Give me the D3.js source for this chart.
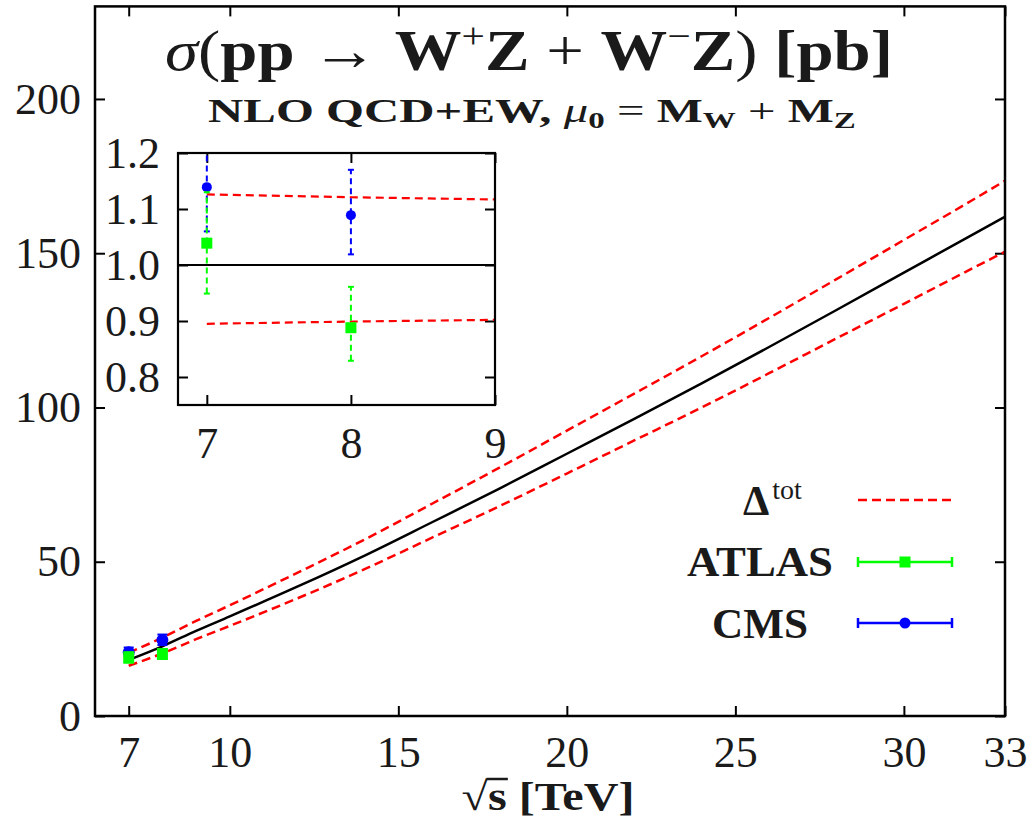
<!DOCTYPE html>
<html><head><meta charset="utf-8">
<script src="https://cdn.jsdelivr.net/npm/d3@7"></script>
<style>
body{margin:0;background:#fff}
svg{display:block}
text{font-family:'Liberation Serif','Times New Roman',serif;fill:#1a1a1a}
</style>
</head><body>
<svg id="c" width="1034" height="824"></svg>
<script>
// ---- Theory curve (NLO QCD+EW), sigma in pb vs sqrt(s) in TeV ----
const sqrtS        = [7, 8, 9, 10, 12, 14, 16, 18, 20, 22, 24, 26, 28, 30, 32, 33];
const sigmaCentral = [18.2, 22.6, 27.6, 32.3, 41.9, 52.0, 62.8, 73.7, 85.0, 96.3, 107.8, 119.6, 131.6, 143.7, 155.8, 161.8];
const sigmaUpper   = [20.5, 25.4, 30.8, 35.9, 46.4, 57.2, 68.8, 80.5, 92.5, 104.5, 116.6, 129.0, 141.6, 154.3, 167.0, 173.5];
const sigmaLower   = [16.3, 20.3, 24.9, 29.2, 38.1, 47.6, 57.8, 68.0, 78.6, 89.3, 100.0, 111.1, 122.4, 133.6, 144.9, 150.5];

// ---- Measurements (pb) ----
const expSqrtS  = [7, 8];
const atlasSigma = [19.0, 20.1];
const atlasLo    = [17.3, 18.7];
const atlasHi    = [20.6, 21.7];
const cmsSigma   = [20.7, 24.6];
const cmsLo      = [19.3, 23.0];
const cmsHi      = [22.2, 26.4];

// ---- Inset: ratio to theory ----
const ratioSqrtS   = [7, 8, 9];
const ratioCentral = [1.0, 1.0, 1.0];
const ratioUpper   = [1.126, 1.121, 1.117];
const ratioLower   = [0.895, 0.899, 0.902];
const atlasRatio   = [1.039, 0.888];
const atlasRatioLo = [0.949, 0.829];
const atlasRatioHi = [1.130, 0.961];
const cmsRatio     = [1.139, 1.089];
const cmsRatioLo   = [1.060, 1.019];
const cmsRatioHi   = [1.220, 1.170];

// ---- Tick labels ----
const xTicks = [7, 10, 15, 20, 25, 30, 33];
const yTicks = [0, 50, 100, 150, 200];
const xTicksInset = [7, 8, 9];
const yTicksInset = [0.8, 0.9, 1.0, 1.1, 1.2];

const RED = '#ff0000', GREEN = '#00ff00', BLUE = '#0000ff';
const svg = d3.select('#c');

// ================= MAIN PLOT =================
const L = 95, R = 1005, T = 6.4, B = 716;
const x = d3.scaleLinear().domain([6, 33]).range([L, R]);
const y = d3.scaleLinear().domain([0, 230]).range([B, T]);

svg.append('defs').append('clipPath').attr('id', 'mainClip')
  .append('rect').attr('x', L).attr('y', T).attr('width', R - L).attr('height', B - T);

function styleAxis(g, fs) {
  g.select('.domain').remove();
  g.selectAll('.tick line').attr('stroke', '#000').attr('stroke-width', 2);
  g.selectAll('.tick text').attr('font-size', fs).style('fill', '#1a1a1a');
}

const gxB = svg.append('g').attr('transform', `translate(0,${B})`)
  .call(d3.axisBottom(x).tickValues(xTicks).tickSize(-10).tickSizeOuter(0).tickPadding(20).tickFormat(d3.format('d')));
styleAxis(gxB, 44);
const gxT = svg.append('g').attr('transform', `translate(0,${T})`)
  .call(d3.axisTop(x).tickValues(xTicks).tickSize(-10).tickSizeOuter(0).tickFormat(''));
styleAxis(gxT, 44);
const gyL = svg.append('g').attr('transform', `translate(${L},0)`)
  .call(d3.axisLeft(y).tickValues(yTicks).tickSize(-10).tickSizeOuter(0).tickPadding(14).tickFormat(d3.format('d')));
styleAxis(gyL, 44);
const gyR = svg.append('g').attr('transform', `translate(${R},0)`)
  .call(d3.axisRight(y).tickValues(yTicks).tickSize(-10).tickSizeOuter(0).tickFormat(''));
styleAxis(gyR, 44);

// curves
const mainLine = d3.line().x(d => x(d[0])).y(d => y(d[1])).curve(d3.curveMonotoneX);
const plotG = svg.append('g').attr('clip-path', 'url(#mainClip)');
plotG.append('path').datum(d3.zip(sqrtS, sigmaUpper)).attr('d', mainLine)
  .attr('fill', 'none').attr('stroke', RED).attr('stroke-width', 2.5).attr('stroke-dasharray', '9,5');
plotG.append('path').datum(d3.zip(sqrtS, sigmaLower)).attr('d', mainLine)
  .attr('fill', 'none').attr('stroke', RED).attr('stroke-width', 2.5).attr('stroke-dasharray', '9,5');
plotG.append('path').datum(d3.zip(sqrtS, sigmaCentral)).attr('d', mainLine)
  .attr('fill', 'none').attr('stroke', '#000').attr('stroke-width', 2.5);

// measurement points
function errBars(g, xs, vals, lo, hi, sx, sy, color, dash, cap) {
  const data = xs.map((v, i) => ({x: v, v: vals[i], lo: lo[i], hi: hi[i]}));
  const gg = g.append('g');
  gg.selectAll('line.v').data(data).join('line')
    .attr('x1', d => sx(d.x)).attr('x2', d => sx(d.x))
    .attr('y1', d => sy(d.lo)).attr('y2', d => sy(d.hi))
    .attr('stroke', color).attr('stroke-width', 2).attr('stroke-dasharray', dash);
  ['lo', 'hi'].forEach(k => {
    gg.selectAll('line.' + k).data(data).join('line')
      .attr('x1', d => sx(d.x) - cap).attr('x2', d => sx(d.x) + cap)
      .attr('y1', d => sy(d[k])).attr('y2', d => sy(d[k]))
      .attr('stroke', color).attr('stroke-width', 2);
  });
  return data;
}
const cmsMain = errBars(plotG, expSqrtS, cmsSigma, cmsLo, cmsHi, x, y, BLUE, null, 5);
plotG.selectAll('circle.cms').data(cmsMain).join('circle')
  .attr('cx', d => x(d.x)).attr('cy', d => y(d.v)).attr('r', 6).attr('fill', BLUE);
const atlasMain = errBars(plotG, expSqrtS, atlasSigma, atlasLo, atlasHi, x, y, GREEN, null, 5);
plotG.selectAll('rect.atlas').data(atlasMain).join('rect')
  .attr('x', d => x(d.x) - 5.5).attr('y', d => y(d.v) - 6).attr('width', 11).attr('height', 12).attr('fill', GREEN);

// frame
svg.append('rect').attr('x', L).attr('y', T).attr('width', R - L).attr('height', B - T)
  .attr('fill', 'none').attr('stroke', '#000').attr('stroke-width', 2.5);

// stretch a text group horizontally to a target width around its centre
function fitWidth(g, cx, target) {
  const w = g.node().getBBox().width;
  const s = target / w;
  g.attr('transform', `translate(${cx},0) scale(${s},1) translate(${-cx},0)`);
}

// x axis title
const xtG = svg.append('g');
const xt = xtG.append('text').attr('x', 548).attr('y', 810).attr('text-anchor', 'middle')
  .attr('font-size', 40).attr('font-weight', 'bold');
xt.append('tspan').attr('font-weight', 'normal').text('√');
xt.append('tspan').text('s [TeV]');
{
  const n = xt.node();
  const a = n.getEndPositionOfChar(0).x - 1, b = n.getEndPositionOfChar(1).x + 1;
  xtG.append('line').attr('x1', a).attr('x2', b).attr('y1', 810 - 31).attr('y2', 810 - 31)
    .attr('stroke', '#1a1a1a').attr('stroke-width', 2.5);
}
fitWidth(xtG, 548, 173);

// ================= INSET =================
const iL = 178, iR = 495, iT = 153, iB = 405;
const xi = d3.scaleLinear().domain([6.8, 9]).range([iL, iR]);
const yi = d3.scaleLinear().domain([0.75, 1.2]).range([iB, iT]);
svg.select('defs').append('clipPath').attr('id', 'insetClip')
  .append('rect').attr('x', iL).attr('y', iT).attr('width', iR - iL).attr('height', iB - iT);

svg.append('rect').attr('x', iL).attr('y', iT).attr('width', iR - iL).attr('height', iB - iT).attr('fill', '#fff');

const gxiB = svg.append('g').attr('transform', `translate(0,${iB})`)
  .call(d3.axisBottom(xi).tickValues(xTicksInset).tickSize(-10).tickSizeOuter(0).tickPadding(22).tickFormat(d3.format('d')));
styleAxis(gxiB, 44);
const gxiT = svg.append('g').attr('transform', `translate(0,${iT})`)
  .call(d3.axisTop(xi).tickValues(xTicksInset).tickSize(-10).tickSizeOuter(0).tickFormat(''));
styleAxis(gxiT, 44);
const gyiL = svg.append('g').attr('transform', `translate(${iL},0)`)
  .call(d3.axisLeft(yi).tickValues(yTicksInset).tickSize(-10).tickSizeOuter(0).tickPadding(18).tickFormat(d3.format('.1f')));
styleAxis(gyiL, 44);
const gyiR = svg.append('g').attr('transform', `translate(${iR},0)`)
  .call(d3.axisRight(yi).tickValues(yTicksInset).tickSize(-10).tickSizeOuter(0).tickFormat(''));
styleAxis(gyiR, 44);

const insetG = svg.append('g').attr('clip-path', 'url(#insetClip)');
const insetLine = d3.line().x(d => xi(d[0])).y(d => yi(d[1]));
insetG.append('path').datum(d3.zip(ratioSqrtS, ratioUpper)).attr('d', insetLine)
  .attr('fill', 'none').attr('stroke', RED).attr('stroke-width', 2.2).attr('stroke-dasharray', '8,5');
insetG.append('path').datum(d3.zip(ratioSqrtS, ratioLower)).attr('d', insetLine)
  .attr('fill', 'none').attr('stroke', RED).attr('stroke-width', 2.2).attr('stroke-dasharray', '8,5');
insetG.append('path').datum(d3.zip([6.8, 9], [1.0, 1.0])).attr('d', insetLine)
  .attr('fill', 'none').attr('stroke', '#000').attr('stroke-width', 2.2);

const cmsIn = errBars(insetG, expSqrtS, cmsRatio, cmsRatioLo, cmsRatioHi, xi, yi, BLUE, '6,4', 3);
insetG.selectAll('circle.cms').data(cmsIn).join('circle')
  .attr('cx', d => xi(d.x)).attr('cy', d => yi(d.v)).attr('r', 5).attr('fill', BLUE);
const atlasIn = errBars(insetG, expSqrtS, atlasRatio, atlasRatioLo, atlasRatioHi, xi, yi, GREEN, '6,4', 3);
insetG.selectAll('rect.atlas').data(atlasIn).join('rect')
  .attr('x', d => xi(d.x) - 5.5).attr('y', d => yi(d.v) - 5.5).attr('width', 11).attr('height', 11).attr('fill', GREEN);

svg.append('rect').attr('x', iL).attr('y', iT).attr('width', iR - iL).attr('height', iB - iT)
  .attr('fill', 'none').attr('stroke', '#000').attr('stroke-width', 2.2);

// ================= LEGEND =================
const lgX1 = 858, lgX2 = 952, lgMid = 905;
const dt = svg.append('text').attr('x', 743).attr('y', 515).attr('font-size', 42);
dt.append('tspan').attr('font-weight', 'bold').text('Δ');
dt.append('tspan').attr('font-size', 28).attr('dy', -16).attr('dx', 3).text('tot');
svg.append('line').attr('x1', lgX1).attr('x2', lgX2).attr('y1', 500).attr('y2', 500)
  .attr('stroke', RED).attr('stroke-width', 2.5).attr('stroke-dasharray', '9,5');
const atlasLbl = svg.append('g');
atlasLbl.append('text').attr('x', 760).attr('y', 576).attr('text-anchor', 'middle')
  .attr('font-size', 42).attr('font-weight', 'bold').text('ATLAS');
fitWidth(atlasLbl, 760, 146);
function legendErr(yy, color) {
  svg.append('line').attr('x1', lgX1).attr('x2', lgX2).attr('y1', yy).attr('y2', yy)
    .attr('stroke', color).attr('stroke-width', 2.5);
  [lgX1, lgX2].forEach(xx => svg.append('line').attr('x1', xx).attr('x2', xx)
    .attr('y1', yy - 5).attr('y2', yy + 5).attr('stroke', color).attr('stroke-width', 2.5));
}
legendErr(562, GREEN);
svg.append('rect').attr('x', lgMid - 5.5).attr('y', 562 - 5.5).attr('width', 11).attr('height', 11).attr('fill', GREEN);
const cmsLbl = svg.append('g');
cmsLbl.append('text').attr('x', 760).attr('y', 638).attr('text-anchor', 'middle')
  .attr('font-size', 42).attr('font-weight', 'bold').text('CMS');
fitWidth(cmsLbl, 760, 96);
legendErr(623, BLUE);
svg.append('circle').attr('cx', lgMid).attr('cy', 623).attr('r', 5.5).attr('fill', BLUE);

// ================= TITLE =================
const tG = svg.append('g');
const t = tG.append('text').attr('x', 529).attr('y', 70).attr('text-anchor', 'middle').attr('font-size', 58);
t.append('tspan').attr('font-style', 'italic').text('σ');
t.append('tspan').text('(');
t.append('tspan').attr('font-weight', 'bold').text('pp');
t.append('tspan').text(' → ');
t.append('tspan').attr('font-weight', 'bold').text('W');
t.append('tspan').attr('font-size', 36).attr('dy', -22).text('+');
t.append('tspan').attr('font-weight', 'bold').attr('dy', 22).text('Z');
t.append('tspan').text(' + ');
t.append('tspan').attr('font-weight', 'bold').text('W');
t.append('tspan').attr('font-size', 36).attr('dy', -22).text('−');
t.append('tspan').attr('font-weight', 'bold').attr('dy', 22).text('Z');
t.append('tspan').text(') ');
t.append('tspan').attr('font-weight', 'bold').text('[pb]');
fitWidth(tG, 529, 728);

const sG = svg.append('g');
const st = sG.append('text').attr('x', 532).attr('y', 122).attr('text-anchor', 'middle').attr('font-size', 34);
st.append('tspan').attr('font-weight', 'bold').text('NLO QCD+EW, ');
st.append('tspan').attr('font-style', 'italic').text('μ');
st.append('tspan').attr('font-weight', 'bold').attr('font-size', 23).attr('dy', 6).text('0');
st.append('tspan').attr('dy', -6).text(' = ');
st.append('tspan').attr('font-weight', 'bold').text('M');
st.append('tspan').attr('font-weight', 'bold').attr('font-size', 23).attr('dy', 6).text('W');
st.append('tspan').attr('dy', -6).text(' + ');
st.append('tspan').attr('font-weight', 'bold').text('M');
st.append('tspan').attr('font-weight', 'bold').attr('font-size', 23).attr('dy', 6).text('Z');
fitWidth(sG, 532, 648);
</script>
</body></html>
